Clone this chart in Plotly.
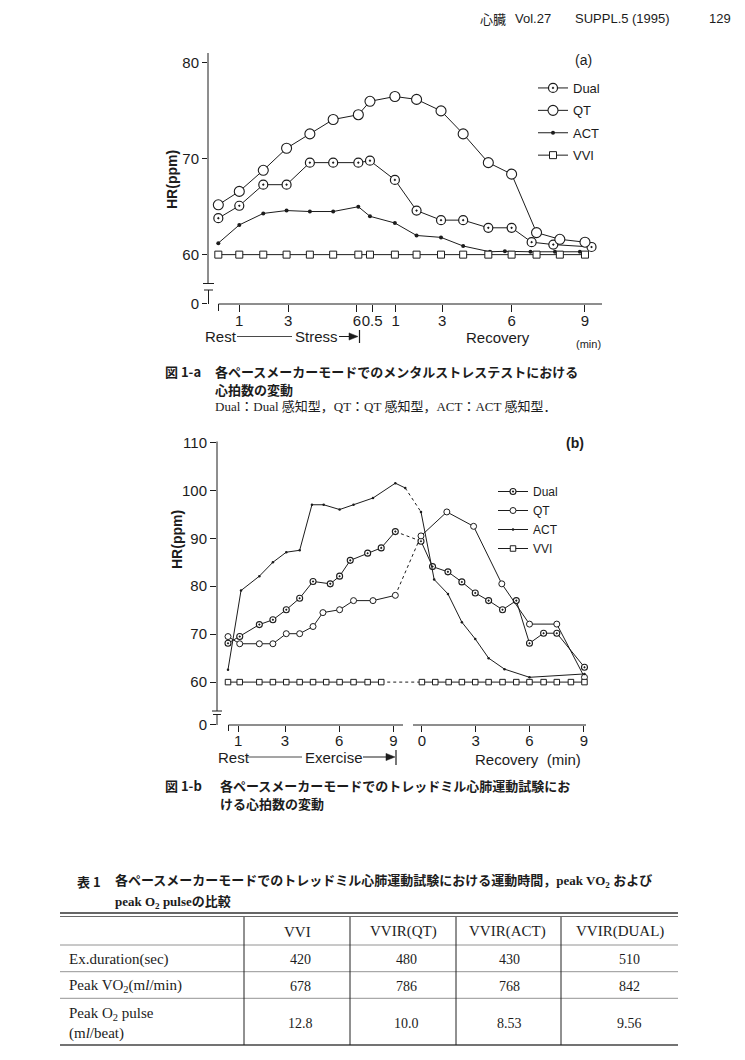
import plotly.graph_objects as go

W, H = 745, 1060
INK = '#1c1c1c'
SANS = 'Liberation Sans, Arial, Noto Sans CJK JP'
JP = 'Noto Sans CJK JP'
SERIF = 'Liberation Serif, Noto Sans CJK JP'

# ---------------- Figure 1-a (mental stress test) ----------------
a_pos = [0.10, 1.00, 2.03, 3.03, 4.03, 5.03, 6.11, 6.61, 7.68, 8.61, 9.66, 10.61, 11.69, 12.69, 13.76, 14.76, 15.84]
a_dual_pos = [0.10, 1.00, 2.03, 3.03, 4.03, 5.03, 6.11, 6.61, 7.68, 8.61, 9.66, 10.61, 11.69, 12.69, 13.55, 14.48, 16.12]
a_dual = [63.8, 65.1, 67.3, 67.3, 69.6, 69.6, 69.6, 69.8, 67.8, 64.6, 63.6, 63.6, 62.8, 62.8, 61.3, 61.05, 60.8]
a_qt = [65.2, 66.6, 68.8, 71.1, 72.6, 74.1, 74.6, 76.0, 76.5, 76.2, 75.0, 72.6, 69.6, 68.4, 62.3, 61.6, 61.3]
a_act_pos = [0.10, 1.00, 2.03, 3.03, 4.03, 5.03, 6.11, 6.61, 7.68, 8.61, 9.66, 10.61, 11.76, 12.40, 13.50, 14.55, 15.62]
a_act = [61.2, 63.1, 64.3, 64.6, 64.5, 64.5, 65.0, 64.0, 63.3, 62.0, 61.8, 60.9, 60.3, 60.35, 60.3, 60.3, 60.3]
a_vvi = [60, 60, 60, 60, 60, 60, 60, 60, 60, 60, 60, 60, 60, 60, 60, 60, 60]
a_tick_pos = [1.0, 3.1, 6.05, 6.7, 7.71, 9.71, 12.69, 15.84]
a_tick_text = ['1', '3', '6', '0.5', '1', '3', '6', '9']
a_ytick_val = [54.9, 60, 70, 80]
a_ytick_text = ['0', '60', '70', '80']

# ---------------- Figure 1-b (treadmill exercise test) ----------------
b_dual_ex_pos = [-0.09, 0.55, 1.62, 2.36, 3.09, 3.82, 4.55, 5.49, 6.00, 6.58, 7.53, 8.27, 9.04]
b_dual_ex = [68.1, 69.5, 72.0, 73.0, 75.1, 77.5, 81.0, 80.5, 82.1, 85.4, 86.9, 88.0, 91.4]
b_dual_rec_pos = [10.44, 11.07, 11.91, 12.67, 13.40, 14.13, 14.89, 15.64, 16.36, 17.13, 17.85, 19.36]
b_dual_rec = [89.4, 84.1, 83.0, 80.9, 78.6, 77.0, 75.1, 77.0, 68.1, 70.2, 70.2, 63.1]

b_qt_ex_pos = [-0.09, 0.55, 1.62, 2.36, 3.09, 3.82, 4.55, 5.09, 6.00, 6.76, 7.82, 9.04]
b_qt_ex = [69.5, 68.0, 68.0, 68.0, 70.1, 70.1, 71.6, 74.5, 75.1, 77.0, 77.0, 78.1]
b_qt_rec_pos = [10.44, 11.85, 13.31, 14.85, 16.36, 17.85, 19.36]
b_qt_rec = [90.5, 95.5, 92.5, 80.5, 72.1, 72.1, 61.0]

b_act_ex_pos = [-0.09, 0.62, 1.62, 2.36, 3.09, 3.82, 4.49, 5.13, 6.00, 6.76, 7.82, 9.04, 9.58]
b_act_ex = [62.6, 79.1, 82.1, 85.0, 87.1, 87.5, 97.0, 97.0, 96.0, 97.0, 98.4, 101.5, 100.5]
b_act_rec_pos = [10.44, 11.16, 11.91, 12.67, 13.40, 14.13, 15.00, 16.36, 19.36]
b_act_rec = [95.5, 81.4, 78.4, 72.5, 69.0, 65.0, 62.7, 61.0, 61.7]

b_vvi_ex_pos = [-0.09, 0.55, 1.62, 2.36, 3.09, 3.82, 4.55, 5.27, 6.00, 6.76, 7.53, 8.27]
b_vvi_ex = [60, 60, 60, 60, 60, 60, 60, 60, 60, 60, 60, 60]
b_vvi_rec_pos = [10.49, 11.22, 11.95, 12.67, 13.40, 14.13, 14.89, 15.64, 16.36, 17.13, 17.85, 18.62, 19.36]
b_vvi_rec = [60, 60, 60, 60, 60, 60, 60, 60, 60, 60, 60, 60, 60]

b_tick_pos = [0.47, 3.02, 5.97, 8.93, 10.49, 13.43, 16.36, 19.33]
b_tick_text = ['1', '3', '6', '9', '0', '3', '6', '9']
b_ytick_val = [51.1, 60, 70, 80, 90, 100, 110]
b_ytick_text = ['0', '60', '70', '80', '90', '100', '110']

# ---------------- Table 1 ----------------
tbl_cols = ['VVI', 'VVIR(QT)', 'VVIR(ACT)', 'VVIR(DUAL)']
tbl_rows = ['Ex.duration(sec)', 'Peak VO<sub>2</sub>(m<i>l</i>/min)', 'Peak O<sub>2</sub> pulse<br>(m<i>l</i>/beat)']
tbl_vals = [['420', '480', '430', '510'],
            ['678', '786', '768', '842'],
            ['12.8', '10.0', '8.53', '9.56']]

fig = go.Figure()

# ---- traces for (a)
fig.add_trace(go.Scatter(x=a_dual_pos, y=a_dual, name='Dual', mode='lines+markers', legendgroup='d',
                         line=dict(color=INK, width=1),
                         marker=dict(symbol='circle-dot', size=9, color='white', line=dict(color=INK, width=1.2)),
                         xaxis='x', yaxis='y', legend='legend'))
fig.add_trace(go.Scatter(x=a_pos, y=a_qt, name='QT', mode='lines+markers', legendgroup='q',
                         line=dict(color=INK, width=1),
                         marker=dict(symbol='circle', size=10, color='white', line=dict(color=INK, width=1.1)),
                         xaxis='x', yaxis='y', legend='legend'))
fig.add_trace(go.Scatter(x=a_act_pos, y=a_act, name='ACT', mode='lines+markers', legendgroup='a',
                         line=dict(color=INK, width=1),
                         marker=dict(symbol='circle', size=4, color=INK),
                         xaxis='x', yaxis='y', legend='legend'))
fig.add_trace(go.Scatter(x=a_pos, y=a_vvi, name='VVI', mode='lines+markers', legendgroup='v',
                         line=dict(color=INK, width=1),
                         marker=dict(symbol='square', size=7, color='white', line=dict(color=INK, width=1)),
                         xaxis='x', yaxis='y', legend='legend'))

# ---- traces for (b)
b_series = [
    ('Dual', b_dual_ex_pos, b_dual_ex, b_dual_rec_pos, b_dual_rec,
     dict(symbol='circle-dot', size=6, color='white', line=dict(color=INK, width=1.1))),
    ('QT', b_qt_ex_pos, b_qt_ex, b_qt_rec_pos, b_qt_rec,
     dict(symbol='circle', size=6, color='white', line=dict(color=INK, width=1))),
    ('ACT', b_act_ex_pos, b_act_ex, b_act_rec_pos, b_act_rec,
     dict(symbol='circle', size=2.5, color=INK)),
    ('VVI', b_vvi_ex_pos, b_vvi_ex, b_vvi_rec_pos, b_vvi_rec,
     dict(symbol='square', size=5.5, color='white', line=dict(color=INK, width=1))),
]
for name, exx, exy, rx, ry, mk in b_series:
    fig.add_trace(go.Scatter(x=[exx[-1], rx[0]], y=[exy[-1], ry[0]], mode='lines',
                             line=dict(color=INK, width=1, dash='dot'), showlegend=False,
                             xaxis='x2', yaxis='y2', hoverinfo='skip'))
for name, exx, exy, rx, ry, mk in b_series:
    fig.add_trace(go.Scatter(x=exx, y=exy, name=name, mode='lines+markers',
                             line=dict(color=INK, width=1), marker=mk,
                             xaxis='x2', yaxis='y2', legend='legend2'))
    fig.add_trace(go.Scatter(x=rx, y=ry, name=name, mode='lines+markers', showlegend=False,
                             line=dict(color=INK, width=1), marker=mk,
                             xaxis='x2', yaxis='y2'))

tickfont = dict(family=SANS, size=15, color=INK)
common_ax = dict(showgrid=False, zeroline=False, showline=False, ticks='outside', tickangle=0,
                 tickwidth=1, tickcolor=INK, tickfont=tickfont, fixedrange=True, automargin=False)

fig.update_layout(
    width=W, height=H, margin=dict(l=0, r=0, t=0, b=0, autoexpand=False),
    paper_bgcolor='white', plot_bgcolor='rgba(0,0,0,0)',
    showlegend=True,
    xaxis=dict(domain=[208 / W, 602 / W], range=[-0.343, 16.57], anchor='y', ticklabelstandoff=-4,
               tickmode='array', tickvals=a_tick_pos, ticktext=a_tick_text, ticklen=7, **common_ax),
    yaxis=dict(domain=[1 - 304 / H, 1 - 53 / H], range=[54.85, 81.04], anchor='x',
               tickmode='array', tickvals=a_ytick_val, ticktext=a_ytick_text, ticklen=5, **common_ax),
    xaxis2=dict(domain=[217 / W, 590.7 / W], range=[-0.69, 19.7], anchor='y2', ticklabelstandoff=-4,
                tickmode='array', tickvals=b_tick_pos, ticktext=b_tick_text, ticklen=6, **common_ax),
    yaxis2=dict(domain=[1 - 725 / H, 1 - 441 / H], range=[51.05, 110.3], anchor='x2',
                tickmode='array', tickvals=b_ytick_val, ticktext=b_ytick_text, ticklen=6, **common_ax),
    legend=dict(x=533 / W, y=1 - 73 / H, xanchor='left', yanchor='top', traceorder='grouped',
                tracegroupgap=2.5,
                font=dict(family=SANS, size=13, color=INK), bgcolor='rgba(0,0,0,0)', itemwidth=30),
    legend2=dict(x=493 / W, y=1 - 477 / H, xanchor='left', yanchor='top', traceorder='normal',
                 font=dict(family=SANS, size=12, color=INK), bgcolor='rgba(0,0,0,0)', itemwidth=30),
)


def P(x, y):
    return x / W, 1 - y / H


shapes = []


def seg(x0, y0, x1, y1, w=1.0, color=INK, dash=None):
    a0, b0 = P(x0, y0)
    a1, b1 = P(x1, y1)
    ln = dict(color=color, width=w)
    if dash:
        ln['dash'] = dash
    shapes.append(dict(type='line', xref='paper', yref='paper', x0=a0, y0=b0, x1=a1, y1=b1, line=ln))


def arrow(x_head, x_tail, y):
    # shaft + filled arrow head
    seg(x_tail, y, x_head - 6, y, w=1.0)
    pts = [P(x_head, y), P(x_head - 9, y - 3.6), P(x_head - 9, y + 3.6)]
    path = 'M{:.5f},{:.5f} L{:.5f},{:.5f} L{:.5f},{:.5f} Z'.format(*pts[0], *pts[1], *pts[2])
    shapes.append(dict(type='path', xref='paper', yref='paper', path=path,
                       fillcolor=INK, line=dict(color=INK, width=0.5)))


# axes of (a) with broken y axis
seg(208, 53, 208, 283.5)
seg(203, 283.5, 214, 283.5)
seg(204, 290, 213, 290)
seg(208.5, 290, 208.5, 304)
seg(218.5, 304, 602, 304)
seg(218.5, 304, 218.5, 311)
# axes of (b) with broken y and x axes
seg(217, 441.5, 217, 711)
seg(212, 711, 222, 711)
seg(213, 714.5, 221, 714.5)
seg(217, 714.5, 217, 725)
seg(228.5, 725, 403, 725)
seg(228.5, 725, 228.5, 731)
seg(413, 725, 586, 725)
# Rest --- Stress / Exercise lines with end bar
seg(237, 336.5, 292, 336.5, w=0.8)
arrow(358, 339, 336.5)
seg(359.5, 330, 359.5, 343, w=1.2)
seg(247, 757, 302, 757, w=0.8)
arrow(395, 363, 757)
seg(396, 750, 396, 765, w=1.2)

# Table rules
seg(60, 913, 678, 913, w=1.4, color='#333')
seg(60, 916.5, 678, 916.5, w=0.8, color='#444')
seg(60, 945, 678, 945, w=0.8, color='#777')
seg(60, 971.7, 678, 971.7, w=0.8, color='#777')
seg(60, 998.3, 678, 998.3, w=0.8, color='#777')
seg(60, 1045, 678, 1045, w=1.6, color='#444')
for xs in [244, 350, 456, 561]:
    seg(xs, 917, xs, 1045, w=1.0, color='#222')

anns = []


def T(text, x, y, size=13, family=SANS, xanchor='left', yanchor='middle', angle=0, color=INK):
    a, b = P(x, y)
    anns.append(dict(text=text, x=a, y=b, xref='paper', yref='paper', xanchor=xanchor,
                     yanchor=yanchor, showarrow=False, textangle=angle, align='left',
                     font=dict(size=size, family=family, color=color)))


# page header
T('心臓', 478, 18.5, size=13, family=JP)
T('Vol.27', 513, 18.5, size=13)
T('SUPPL.5', 573, 18.5, size=13)
T('(1995)', 630, 18.5, size=13)
T('129', 733, 18.5, size=13, xanchor='right')

# (a) chart texts
T('(a)', 583, 60, size=14, xanchor='center')
T('<b>HR(ppm)</b>', 172, 180, size=14, xanchor='center', angle=-90)
T('Rest', 203, 336.5, size=15)
T('Stress', 293, 336.5, size=15)
T('Recovery', 498, 337, size=15, xanchor='center')
T('(min)', 588, 344, size=11, xanchor='center')

# (b) chart texts
T('<b>(b)</b>', 575, 443, size=14, xanchor='center')
T('<b>HR(ppm)</b>', 177, 540, size=14, xanchor='center', angle=-90)
T('Rest', 216, 757, size=15)
T('Exercise', 303, 757, size=15)
T('Recovery  (min)', 473, 759, size=15)

# captions
T('<b>図 1-a</b>', 163, 371.7, size=13, family=JP)
T('<b>各ペースメーカーモードでのメンタルストレステストにおける</b>', 213, 371.7, size=13, family=JP)
T('<b>心拍数の変動</b>', 213, 389.3, size=13, family=JP)
T('Dual：Dual 感知型，QT：QT 感知型，ACT：ACT 感知型．', 213, 406.7, size=13, family=SERIF)
T('<b>図 1-b</b>', 163, 785.7, size=13, family=JP)
T('<b>各ペースメーカーモードでのトレッドミル心肺運動試験にお</b>', 218, 785.7, size=13, family=JP)
T('<b>ける心拍数の変動</b>', 218, 803.3, size=13, family=JP)

# table title
T('<b>表 1</b>', 75, 881.7, size=13, family=JP)
T('<b>各ペースメーカーモードでのトレッドミル心肺運動試験における運動時間，peak VO<sub>2</sub> および</b>',
  113, 881.7, size=13, family=SERIF)
T('<b>peak O<sub>2</sub> pulseの比較</b>', 113, 902.7, size=13, family=SERIF)

# table body
hdr_x = [297, 403, 508, 620]
val_x = [300, 406, 509, 629]
row_y = [959, 986, 1023.5]
for c, name in enumerate(tbl_cols):
    T(name, hdr_x[c], 931.7, size=15, family=SERIF, xanchor='center')
for r, label in enumerate(tbl_rows):
    T(label, 66.7, row_y[r], size=15, family=SERIF)
    for c in range(len(tbl_cols)):
        T(tbl_vals[r][c], val_x[c], row_y[r], size=14, family=SERIF, xanchor='center')

fig.update_layout(shapes=shapes, annotations=anns)

fig.write_html('out.html', include_plotlyjs=True, config={'displayModeBar': False},
               post_script="document.body.style.margin='0';document.body.style.overflow='hidden';"
                           "document.documentElement.style.overflow='hidden';")
